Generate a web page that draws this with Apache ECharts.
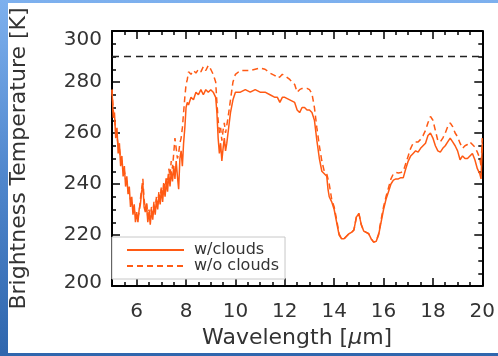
<!DOCTYPE html>
<html><head><meta charset="utf-8">
<script src="https://cdn.jsdelivr.net/npm/echarts@6/dist/echarts.min.js"></script>
<style>
html,body{margin:0;padding:0;width:498px;height:356px;overflow:hidden;background:linear-gradient(to bottom,#7db0ee 0%,#4f86cc 50%,#2f66ad 100%);}
#panel{position:absolute;left:8px;top:3px;width:490px;height:350px;background:#fff;}
#chart{position:absolute;left:0;top:0;width:498px;height:356px;}
</style></head><body>
<div id="panel"></div>
<div id="chart"></div>
<script>
// ---- data ----
const seriesNames = ['w/clouds', 'w/o clouds'];
const lamClouds = [5.0,5.05,5.1,5.15,5.2,5.25,5.3,5.35,5.4,5.45,5.5,5.55,5.6,5.65,5.7,5.75,5.8,5.85,5.9,5.95,
  6.0,6.05,6.1,6.15,6.2,6.25,6.3,6.35,6.4,6.45,6.5,6.55,6.6,6.65,6.7,6.75,6.8,6.85,6.9,6.95,
  7.0,7.05,7.1,7.15,7.2,7.25,7.3,7.35,7.4,7.45,7.5,7.55,7.6,7.65,7.7,7.75,7.8,7.85,7.9,7.95,
  8.0,8.05,8.1,8.2,8.3,8.4,8.5,8.6,8.7,8.8,8.9,9.0,9.1,9.2,9.25,9.3,9.35,9.4,9.45,9.5,9.55,9.6,9.65,9.7,9.8,9.9,
  10.0,10.2,10.4,10.6,10.8,11.0,11.2,11.4,11.6,11.7,11.8,11.9,12.0,12.2,12.4,12.5,12.6,12.7,12.8,12.9,
  13.0,13.1,13.2,13.3,13.4,13.5,13.6,13.7,13.75,13.8,13.9,14.0,14.1,14.2,14.3,14.4,14.5,14.6,14.7,14.8,14.9,
  15.0,15.1,15.2,15.3,15.4,15.5,15.6,15.7,15.8,15.9,16.0,16.1,16.2,16.3,16.4,16.5,16.6,16.7,16.8,16.9,
  17.0,17.1,17.2,17.3,17.4,17.5,17.6,17.7,17.8,17.9,18.0,18.1,18.2,18.3,18.4,18.5,18.6,18.7,18.8,18.9,
  19.0,19.1,19.2,19.3,19.4,19.5,19.6,19.7,19.8,19.9,19.95,20.0];
const tClouds = [277,266,268,258,262,252,256,247,251,243,247,239,243,236,239,231,235,228,232,225,
  229,225,230,232,237,240,231,229,232,225,229,224,230,226,232,228,234,230,236,232,
  238,233,239,235,241,237,244,239,245,241,247,242,249,243,238,250,253,247,256,262,
  270,272,271,274,273,276,275,277,275,277,276,277,276,274,268,258,252,256,249,254,258,253,256,260,268,273,
  276,276,277,276,277,276,276,275,274,274,272,274,274,273,272,269,268,270,270,269,
  269,268,265,257,250,245,244,243,238,235,233,230,225,220,218.5,218.5,219.5,220.5,221,222,227,
  228.5,224,221.5,221,220.5,218.5,217.2,217.5,220,225,230,234,237,240,241.5,242,242,242.5,242.5,246,
  249,251,252,253,252.5,254,255,256,259,260,258,255,253,252.5,254,255,256.5,258,256.5,255,
  253,249.5,251,250,250,251,252,249.5,246,244,242,256];
const lamClear = [5.0,5.05,5.1,5.15,5.2,5.25,5.3,5.35,5.4,5.45,5.5,5.55,5.6,5.65,5.7,5.75,5.8,5.85,5.9,5.95,
  6.0,6.05,6.1,6.15,6.2,6.25,6.3,6.35,6.4,6.45,6.5,6.55,6.6,6.65,6.7,6.75,6.8,6.85,6.9,6.95,
  7.0,7.05,7.1,7.15,7.2,7.25,7.3,7.35,7.4,7.45,7.5,7.55,7.6,7.65,7.7,7.75,7.8,7.85,7.9,7.95,
  8.0,8.05,8.1,8.2,8.3,8.4,8.5,8.6,8.7,8.8,8.9,9.0,9.1,9.2,9.25,9.3,9.35,9.4,9.45,9.5,9.55,9.6,9.7,9.8,9.9,
  10.0,10.2,10.4,10.6,10.8,11.0,11.2,11.4,11.6,11.7,11.8,11.9,12.0,12.2,12.4,12.5,12.6,12.7,12.8,12.9,
  13.0,13.1,13.2,13.3,13.4,13.5,13.6,13.7,13.8,13.9,14.0,14.1,14.2,14.3,14.4,14.5,14.6,14.7,14.8,14.9,
  15.0,15.1,15.2,15.3,15.4,15.5,15.6,15.7,15.8,15.9,16.0,16.1,16.2,16.3,16.4,16.5,16.6,16.7,16.8,16.9,
  17.0,17.1,17.2,17.3,17.4,17.5,17.6,17.7,17.8,17.9,18.0,18.1,18.2,18.3,18.4,18.5,18.6,18.7,18.8,18.9,
  19.0,19.1,19.2,19.3,19.4,19.5,19.6,19.7,19.8,19.9,19.95,20.0];
const tClear = [277,269,266,261,259,255,254,250,249,246,245,242,241,238,238,234,234,231,231,228,
  228,227,229,234,238,242,234,230,233,227,230,226,231,228,233,230,235,232,237,234,
  239,236,241,238,243,240,246,243,249,246,252,258,254,250,252,256,258,262,268,274,
  279,281,284,283,284.5,283.5,285,284,286,284.5,286.5,285,283,280,272,265,260,262,257,261,264,260,266,273,280,
  283,284.5,284.5,284.5,285,285.5,285,283.5,282.5,281.5,282,283,282.5,281,279,276,277,277.5,277.5,277.5,
  277,275.5,270,262,255,249,245,244,240,234,231,226,220.5,218.5,218.5,219.5,220.5,221,222,227,
  228.5,224,221.5,221,220.5,218.5,217.2,217.5,220.5,226,231,235,238.5,242,244,244.5,244.3,244.5,245,248,
  251,254,256,256.5,256.5,257.5,259,261,264,266.5,265,261,257,256.5,258,260,262.5,264,262.5,260,
  258.5,256,254,255,255.5,256.5,255.5,254.5,252.5,250,247,258];
const refLevel = 290;            // dashed reference temperature
const xRange = [5, 20];
const yRange = [200, 300];
const xMajorTicks = [6, 8, 10, 12, 14, 16, 18, 20];

const pairs = (xs, ys) => xs.map((x, i) => [x, ys[i]]);
const orange = '#ff5a14';
const axisCol = '#000';
const labCol = '#333';
const FONT = 'DejaVu Sans';

const chart = echarts.init(document.getElementById('chart'), null, {renderer: 'canvas'});
const baseX = (pos) => ({
  type: 'value', position: pos, min: xRange[0], max: xRange[1],
  axisLine: {show: true, onZero: false, lineStyle: {color: axisCol, width: 2}},
  splitLine: {show: false}
});
chart.setOption({
  backgroundColor: 'transparent',
  animation: false,
  textStyle: {fontFamily: FONT},
  grid: {left: 103, top: 31, right: 10, bottom: 70},
  legend: {
    data: seriesNames, orient: 'vertical', left: 112, top: 237,
    itemWidth: 57, itemHeight: 12, itemGap: 0,
    padding: [5, 6, 5, 14],
    backgroundColor: '#fff', borderColor: '#c8c8c8', borderWidth: 1,
    itemStyle: {opacity: 0},
    textStyle: {fontFamily: FONT, fontSize: 16, color: labCol, lineHeight: 12, padding: [0, 0, 0, 5]}
  },
  xAxis: [
    Object.assign(baseX('bottom'), {
      name: 'Wavelength [{i|µ}m]', nameLocation: 'middle', nameGap: 41,
      nameTextStyle: {fontFamily: FONT, fontSize: 22, color: labCol,
        rich: {i: {fontFamily: FONT, fontSize: 22, fontStyle: 'italic', color: labCol}}},
      axisTick: {show: true, inside: true, length: 8, customValues: xMajorTicks, lineStyle: {color: axisCol, width: 1.5}},
      axisLabel: {show: true, customValues: xMajorTicks, margin: 16, fontFamily: FONT, fontSize: 20, color: labCol}
    }),
    Object.assign(baseX('bottom'), {
      interval: 0.5, axisLine: {show: false},
      axisTick: {show: true, inside: true, length: 4, lineStyle: {color: axisCol, width: 1.5}},
      axisLabel: {show: false}
    }),
    Object.assign(baseX('top'), {
      axisTick: {show: true, inside: true, length: 8, customValues: xMajorTicks, lineStyle: {color: axisCol, width: 1.5}},
      axisLabel: {show: false}
    }),
    Object.assign(baseX('top'), {
      interval: 0.5, axisLine: {show: false},
      axisTick: {show: true, inside: true, length: 4, lineStyle: {color: axisCol, width: 1.5}},
      axisLabel: {show: false}
    })
  ],
  yAxis: [
    {
      type: 'value', position: 'left', min: yRange[0], max: yRange[1], interval: 20,
      name: 'Brightness Temperature [K]', nameLocation: 'middle', nameGap: 82, nameRotate: 90,
      nameTextStyle: {fontFamily: FONT, fontSize: 22, color: labCol},
      axisLine: {show: true, onZero: false, lineStyle: {color: axisCol, width: 2}},
      axisTick: {show: true, inside: true, length: 8, lineStyle: {color: axisCol, width: 1.5}},
      minorTick: {show: true, splitNumber: 4, length: 4, lineStyle: {color: axisCol, width: 1.5}},
      splitLine: {show: false},
      axisLabel: {
        margin: 10, fontFamily: FONT, fontSize: 20, color: labCol,
        formatter: v => v === yRange[1] ? '{t|' + v + '}' : (v === yRange[0] ? '{b|' + v + '}' : '{n|' + v + '}'),
        rich: {
          t: {fontFamily: FONT, fontSize: 20, color: labCol, padding: [17, 0, 0, 0]},
          b: {fontFamily: FONT, fontSize: 20, color: labCol, padding: [0, 0, 7, 0]},
          n: {fontFamily: FONT, fontSize: 20, color: labCol}
        }
      }
    },
    {
      type: 'value', position: 'right', min: yRange[0], max: yRange[1], interval: 20,
      axisLine: {show: true, onZero: false, lineStyle: {color: axisCol, width: 2}},
      axisTick: {show: true, inside: true, length: 8, lineStyle: {color: axisCol, width: 1.5}},
      minorTick: {show: true, splitNumber: 4, length: 4, lineStyle: {color: axisCol, width: 1.5}},
      splitLine: {show: false},
      axisLabel: {show: false}
    }
  ],
  series: [
    {
      name: 'ref', type: 'line', symbol: 'none', silent: true,
      data: [[xRange[0], refLevel], [xRange[1], refLevel]],
      lineStyle: {color: '#222', width: 1.3, type: [7, 5]}
    },
    {
      name: seriesNames[1], type: 'line', symbol: 'none', clip: true,
      data: pairs(lamClear, tClear),
      itemStyle: {color: orange},
      lineStyle: {color: orange, width: 1.5, type: [6, 4]}
    },
    {
      name: seriesNames[0], type: 'line', symbol: 'none', clip: true,
      data: pairs(lamClouds, tClouds),
      itemStyle: {color: orange},
      lineStyle: {color: orange, width: 1.5}
    }
  ]
});
</script>
</body></html>
